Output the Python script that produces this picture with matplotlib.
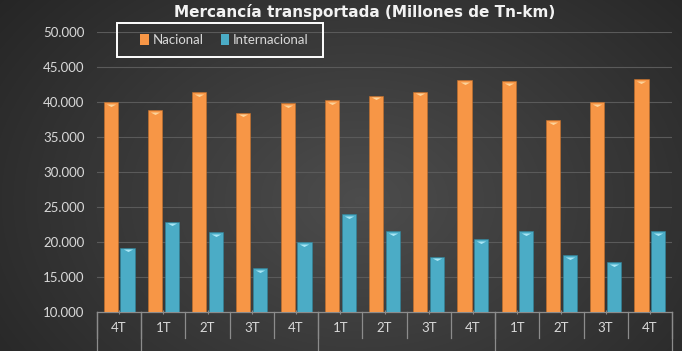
import numpy as np
import matplotlib
matplotlib.use("Agg")
import matplotlib.pyplot as plt
from matplotlib.patches import Patch, Rectangle
from matplotlib.path import Path
import matplotlib.transforms as mtrans

# data (millones de Tn-km)
trimestres = ["4T", "1T", "2T", "3T", "4T", "1T", "2T", "3T", "4T", "1T", "2T", "3T", "4T"]
nacional = [40000, 38800, 41400, 38500, 39800, 40300, 40900, 41500, 43100, 43000, 37400, 40000, 43300]
internacional = [19200, 22900, 21400, 16300, 20000, 24000, 21600, 17900, 20400, 21600, 18100, 17100, 21600]
yticks = [10000, 15000, 20000, 25000, 30000, 35000, 40000, 45000, 50000]
ytick_labels = ["10.000", "15.000", "20.000", "25.000", "30.000", "35.000", "40.000", "45.000", "50.000"]
group_edges = [0.5, 4.5, 8.5]  # year separators below the axis

plt.rcParams['font.family'] = ['Lato', 'DejaVu Sans']

c_nac = "#F79646"
c_int = "#4BACC6"
txt = "#D9D9D9"

fig = plt.figure(figsize=(6.82, 3.51), dpi=100)

# dark radial background
bg = fig.add_axes([0, 0, 1, 1], zorder=-10)
yy, xx = np.mgrid[0:351, 0:682]
r = np.sqrt(((xx - 360) / 420.0) ** 2 + ((yy - 200) / 300.0) ** 2)
shade = np.clip(0.30 - 0.14 * r, 0.13, 0.31)
bg.imshow(np.dstack([shade, shade, shade]), aspect='auto', extent=[0, 1, 0, 1])
bg.axis('off')

ax = fig.add_axes([97 / 682, 39 / 351, 575 / 682, 280 / 351])
ax.set_facecolor('none')

x = np.arange(len(trimestres))
w = 0.32
off = 0.19
ax.bar(x - off, nacional, w, color=c_nac, zorder=3, edgecolor='#c46f2a', linewidth=0.4)
ax.bar(x + off, internacional, w, color=c_int, zorder=3, edgecolor='#2f8399', linewidth=0.4)

# bevel look on bar tops
cap = Path([(-1, 0), (1, 0), (0, -0.55), (-1, 0)], [Path.MOVETO, Path.LINETO, Path.LINETO, Path.CLOSEPOLY])
ax.scatter(x - off, np.array(nacional) - 250, marker=cap, s=45, color="#FCD39A", zorder=4, linewidths=0)
ax.scatter(x + off, np.array(internacional) - 250, marker=cap, s=45, color="#A8E6F5", zorder=4, linewidths=0)

ax.set_ylim(10000, 50000)
ax.set_xlim(-0.5, len(trimestres) - 0.5)
ax.set_yticks(yticks)
ax.set_yticklabels(ytick_labels, color=txt, fontsize=9.5)
ax.yaxis.grid(True, color="#5a5a5a", linewidth=0.8, zorder=0)
ax.tick_params(axis='y', length=0, pad=9)
ax.set_xticks(x)
ax.set_xticklabels(trimestres, color=txt, fontsize=9.5)
ax.tick_params(axis='x', length=3, direction='inout', color="#8c8c8c", pad=6)
for s in ['top', 'right', 'left']:
    ax.spines[s].set_visible(False)
ax.spines['bottom'].set_color("#8c8c8c")
ax.spines['bottom'].set_linewidth(0.9)

# table-like separators under the axis
tr = mtrans.blended_transform_factory(ax.transData, ax.transAxes)
for i in range(len(trimestres) + 1):
    e = i - 0.5
    ax.plot([e, e], [0, -26 / 280], color="#8c8c8c", linewidth=0.9, transform=tr, clip_on=False)
for e in [-0.5] + group_edges + [len(trimestres) - 0.5]:
    ax.plot([e, e], [0, -45 / 280], color="#8c8c8c", linewidth=0.9, transform=tr, clip_on=False)

fig.text(365 / 682, 1 - 12 / 351, "Mercancía transportada (Millones de Tn-km)", ha='center', va='center',
         color="#F2F2F2", fontsize=11, fontweight='bold', family='DejaVu Sans')

# legend box drawn separately so the padding matches
fig.patches.append(Rectangle((117 / 682, 1 - 57 / 351), 206 / 682, 34 / 351, transform=fig.transFigure,
                             facecolor='none', edgecolor='white', linewidth=1.4))
handles = [Patch(facecolor=c_nac, edgecolor='none'), Patch(facecolor=c_int, edgecolor='none')]
fig.legend(handles, ["Nacional", "Internacional"], ncol=2, loc='center left',
           bbox_to_anchor=(140 / 682, 1 - 40 / 351), frameon=False, fontsize=9.5,
           handlelength=0.65, handleheight=0.9, handletextpad=0.3, columnspacing=1.3,
           borderpad=0, borderaxespad=0, labelcolor=txt)

fig.savefig("out.png", dpi=100)
